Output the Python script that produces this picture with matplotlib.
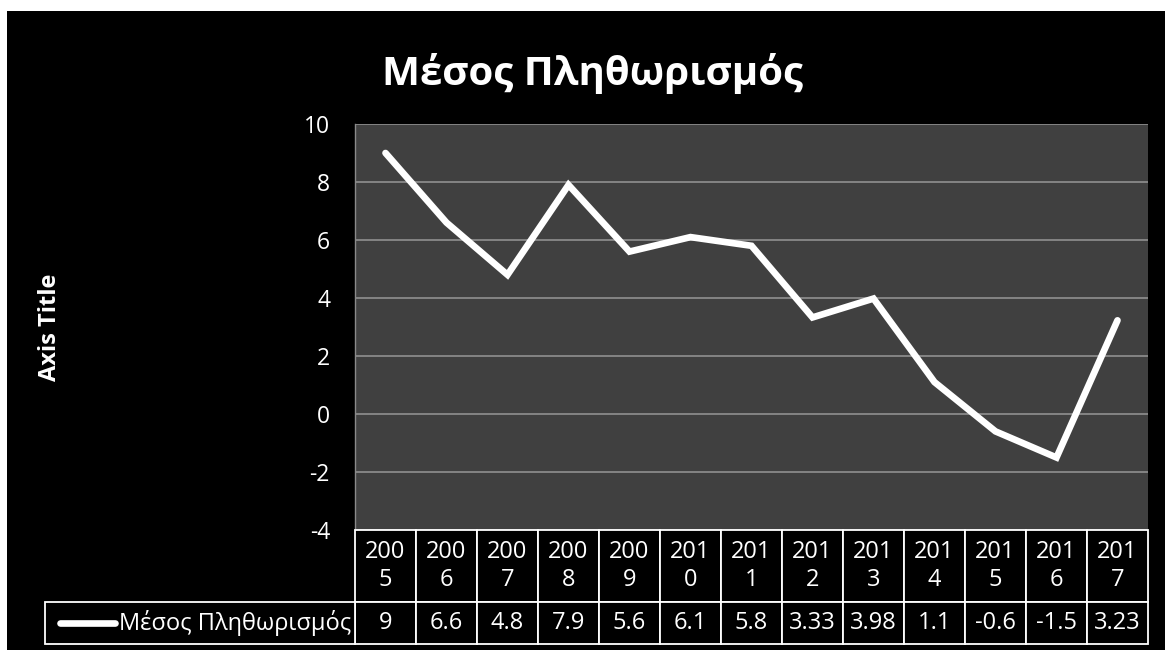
import matplotlib
matplotlib.use("Agg")
import matplotlib.pyplot as plt
import matplotlib.transforms as mtransforms
from matplotlib.patches import Rectangle
from matplotlib.lines import Line2D

years = ["2005", "2006", "2007", "2008", "2009", "2010", "2011",
         "2012", "2013", "2014", "2015", "2016", "2017"]
values = [9, 6.6, 4.8, 7.9, 5.6, 6.1, 5.8, 3.33, 3.98, 1.1, -0.6, -1.5, 3.23]
value_labels = ["9", "6.6", "4.8", "7.9", "5.6", "6.1", "5.8", "3.33", "3.98",
                "1.1", "-0.6", "-1.5", "3.23"]
series_name = "Μέσος Πληθωρισμός"
title = "Μέσος Πληθωρισμός"
yticks = [-4, -2, 0, 2, 4, 6, 8, 10]

FONT = ["Open Sans", "DejaVu Sans"]
plt.rcParams["font.family"] = FONT

W, H = 1165, 650
fig = plt.figure(figsize=(W / 100, H / 100), dpi=100, facecolor="white")

# black chart background (white margin top/left)
fig.patches.append(Rectangle((7 / W, 0), 1 - 7 / W, 1 - 11 / H,
                             transform=fig.transFigure, facecolor="black",
                             edgecolor="none", zorder=-10))

L, R, T, B = 355, 1148, 124, 530
AH = B - T
ax = fig.add_axes([L / W, 1 - B / H, (R - L) / W, AH / H])
ax.set_facecolor("#404040")

x = list(range(len(years)))
ax.plot(x, values, color="white", lw=4.8, solid_joinstyle="miter",
        solid_capstyle="round", zorder=3)

ax.set_xlim(-0.5, len(years) - 0.5)
ax.set_ylim(-4, 10)
ax.set_yticks(yticks)
ax.set_yticklabels([str(v) for v in yticks])
ax.grid(axis="y", color="#8a8a8a", lw=1.3)
ax.set_axisbelow(True)
ax.tick_params(axis="y", length=0, pad=18, labelsize=16.5, colors="white")
ax.tick_params(axis="x", length=0, labelbottom=False)
for s in ["top", "right", "bottom"]:
    ax.spines[s].set_visible(False)
ax.spines["left"].set_color("#8a8a8a")
ax.spines["left"].set_linewidth(1.0)

ax.set_ylabel("Axis Title", color="white", fontsize=17, fontweight="bold",
              labelpad=0)
ax.yaxis.set_label_coords((62 - L) / (R - L), 0.5)

fig.text(593 / W, 1 - 73 / H, title, color="white", fontsize=29,
         fontweight="bold", ha="center", va="center")

# data table drawn below the axes; columns follow the x data scale
blend = mtransforms.blended_transform_factory(ax.transData, ax.transAxes)
hdr_top, hdr_bot = 0.0, -(602 - B) / AH
val_bot = -(644 - B) / AH
edge = dict(facecolor="black", edgecolor="white", lw=1.3, clip_on=False,
            zorder=4)
TS = 17
for i, (yr, vl) in enumerate(zip(years, value_labels)):
    ax.add_patch(Rectangle((i - 0.5, hdr_bot), 1, hdr_top - hdr_bot,
                           transform=blend, **edge))
    ax.add_patch(Rectangle((i - 0.5, val_bot), 1, hdr_bot - val_bot,
                           transform=blend, **edge))
    ax.text(i, (hdr_top + hdr_bot) / 2, yr[:3] + "\n" + yr[3:],
            transform=blend, ha="center", va="center", color="white",
            fontsize=TS, linespacing=1.2, zorder=5)
    ax.text(i, (hdr_bot + val_bot) / 2, vl, transform=blend, ha="center",
            va="center", color="white", fontsize=TS, zorder=5)

# row-label (legend) cell
lab_left = (45 - L) / (R - L)
ax.add_patch(Rectangle((lab_left, val_bot), -lab_left, hdr_bot - val_bot,
                       transform=ax.transAxes, **edge))
ax.text(-4 / (R - L), (hdr_bot + val_bot) / 2, series_name,
        transform=ax.transAxes, ha="right", va="center", color="white",
        fontsize=TS, zorder=5)
ax.add_line(Line2D([(60 - L) / (R - L), (115 - L) / (R - L)],
                   [(hdr_bot + val_bot) / 2] * 2, transform=ax.transAxes,
                   color="white", lw=4.8, solid_capstyle="round",
                   clip_on=False, zorder=5))

fig.savefig("out.png", dpi=100, facecolor=fig.get_facecolor())
